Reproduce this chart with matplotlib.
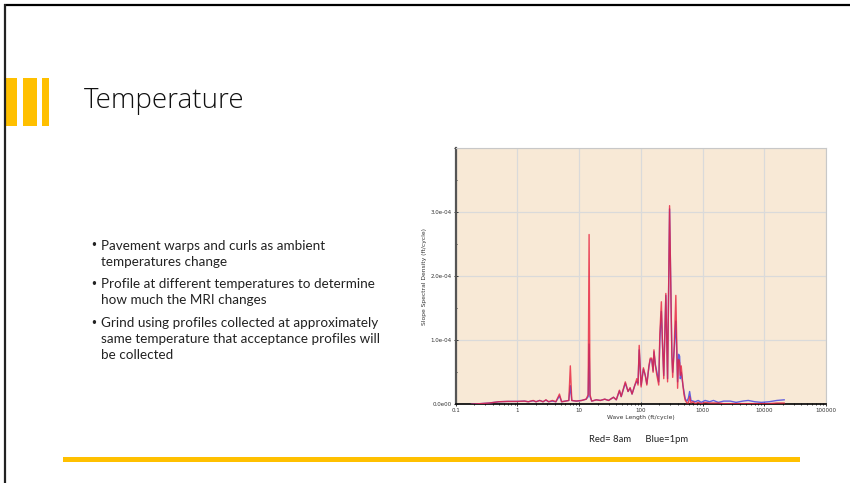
import matplotlib
matplotlib.use("Agg")
import matplotlib.pyplot as plt
from matplotlib.patches import Rectangle
from matplotlib.ticker import MultipleLocator, FuncFormatter, LogLocator, NullFormatter

# ---- data (values in 1e-4 ft/cycle) ----
wavelength = [0.18, 0.25, 0.35, 0.5, 0.7, 1.0, 1.3, 1.5, 1.8, 2.0, 2.3, 2.6, 2.9, 3.2, 3.7,
              4.2, 4.8, 5.2, 6.0, 6.8, 7.2, 7.6, 9.0, 11, 13, 14.0, 14.5, 15.0, 16, 19, 22,
              26, 30, 36, 40, 45, 48, 56, 62, 67, 72, 80, 86, 90, 94, 101, 110, 118, 125,
              135, 142, 150, 158, 163, 172, 182, 195, 203, 215, 225, 235, 254, 271, 292,
              318, 328, 347, 369, 394, 409, 425, 436, 451, 480, 500, 525, 560, 590, 617,
              650, 700, 760, 850, 950, 1100, 1300, 1500, 1800, 2200, 2800, 3500, 4500,
              5500, 7000, 9000, 12000, 16000, 21000]
red_8am = [0.00, 0.01, 0.02, 0.04, 0.045, 0.045, 0.05, 0.04, 0.06, 0.04, 0.06, 0.04, 0.07,
           0.04, 0.06, 0.04, 0.16, 0.04, 0.05, 0.06, 0.60, 0.06, 0.05, 0.06, 0.08, 0.15,
           2.65, 0.15, 0.05, 0.07, 0.06, 0.08, 0.06, 0.11, 0.07, 0.22, 0.12, 0.35, 0.20,
           0.26, 0.16, 0.30, 0.40, 0.30, 0.92, 0.27, 0.57, 0.45, 0.30, 0.60, 0.72, 0.72,
           0.50, 0.85, 0.60, 0.45, 0.30, 1.10, 1.60, 0.90, 0.40, 1.73, 0.35, 3.10, 0.75,
           0.42, 0.90, 1.70, 0.25, 0.70, 0.65, 0.45, 0.60, 0.30, 0.15, 0.06, 0.02, 0.02,
           0.12, 0.02, 0.04, 0.01, 0.03, 0.01, 0.03, 0.02, 0.02, 0.02, 0.01, 0.01, 0.01,
           0.01, 0.01, 0.01, 0.01, 0.01, 0.02, 0.02]
blue_1pm = [0.00, 0.01, 0.02, 0.04, 0.045, 0.045, 0.05, 0.04, 0.055, 0.04, 0.06, 0.04, 0.065,
            0.04, 0.05, 0.04, 0.13, 0.04, 0.05, 0.06, 0.29, 0.06, 0.05, 0.06, 0.08, 0.12,
            0.94, 0.12, 0.05, 0.07, 0.06, 0.08, 0.06, 0.11, 0.07, 0.21, 0.12, 0.33, 0.20,
            0.25, 0.16, 0.30, 0.36, 0.33, 0.85, 0.30, 0.55, 0.45, 0.32, 0.58, 0.70, 0.70,
            0.52, 0.82, 0.62, 0.50, 0.35, 1.00, 1.45, 0.90, 0.45, 1.70, 0.40, 3.05, 0.80,
            0.50, 0.85, 1.30, 0.35, 0.78, 0.75, 0.40, 0.50, 0.30, 0.20, 0.08, 0.05, 0.10,
            0.20, 0.06, 0.05, 0.04, 0.06, 0.03, 0.06, 0.04, 0.06, 0.03, 0.05, 0.05, 0.03,
            0.05, 0.06, 0.04, 0.03, 0.04, 0.06, 0.07]

title = "Temperature"
bullets = [
    ["Pavement warps and curls as ambient", "temperatures change"],
    ["Profile at different temperatures to determine", "how much the MRI changes"],
    ["Grind using profiles collected at approximately",
     "same temperature that acceptance profiles will", "be collected"],
]
caption = "Red= 8am      Blue=1pm"
x_label = "Wave Length (ft/cycle)"
y_label = "Slope Spectral Density (ft/cycle)"
x_ticks = [0.1, 1, 10, 100, 1000, 10000, 100000]
x_tick_labels = ["0.1", "1", "10", "100", "1000", "10000", "100000"]

W, H = 850, 483
fig = plt.figure(figsize=(W / 100, H / 100), dpi=100)
fig.patch.set_facecolor("white")

# slide layer in pixel coordinates
bg = fig.add_axes([0, 0, 1, 1])
bg.set_xlim(0, W)
bg.set_ylim(H, 0)
bg.axis("off")
bg.plot([4, W], [5, 5], color="black", lw=1.6, solid_capstyle="butt")
bg.plot([5, 5], [4, H], color="#222222", lw=1.6, solid_capstyle="butt")
gold = "#FFC000"
for x0, x1 in [(6, 17), (23, 37), (42, 49)]:
    bg.add_patch(Rectangle((x0, 78), x1 - x0, 48, color=gold, lw=0))
bg.add_patch(Rectangle((63, 457), 800 - 63, 5, color=gold, lw=0))
bg.text(84, 101, title, fontsize=20, family="Open Sans", weight="light",
        color="#111111", va="center", ha="left")

line_h = 16.0
y = 246
for group in bullets:
    bg.text(93.5, y, "\u2022", fontsize=8.5, family="DejaVu Sans", color="#222222",
            va="center", ha="center")
    for ln in group:
        bg.text(101.5, y, ln, fontsize=9.7, family="Lato", color="#222222",
                va="center", ha="left")
        y += line_h
    y += 6.5
bg.text(639, 440, caption, fontsize=6.8, family="Lato", color="#222222",
        va="center", ha="center")

# chart
left, right, top, bottom = 455.7, 826, 148, 404.3
ax = fig.add_axes([left / W, 1 - bottom / H, (right - left) / W, (bottom - top) / H])
ax.set_facecolor("#F8E9D6")
ax.plot(wavelength, [v * 1e-4 for v in blue_1pm], color="#4848E0", lw=1.0, alpha=0.85, zorder=3)
ax.plot(wavelength, [v * 1e-4 for v in red_8am], color="#E8203C", lw=1.0, alpha=0.8, zorder=4)
ax.set_xscale("log")
ax.set_xlim(0.1, 100000)
ax.set_ylim(0, 4e-4)
ax.set_xticks(x_ticks)
ax.set_xticklabels(x_tick_labels)
ax.xaxis.set_minor_locator(LogLocator(base=10, subs=range(2, 10), numticks=100))
ax.xaxis.set_minor_formatter(NullFormatter())
ax.yaxis.set_major_locator(MultipleLocator(1e-4))
ax.yaxis.set_minor_locator(MultipleLocator(0.5e-4))
ax.yaxis.set_major_formatter(FuncFormatter(
    lambda v, p: "0.0e00" if v == 0 else ("%.1e" % v) if v < 3.9e-4 else ""))
ax.grid(True, which="major", color="#DADADA", lw=0.9)
ax.set_axisbelow(True)
ax.tick_params(which="both", labelsize=4, colors="#333333", length=2.5, width=0.7,
               direction="inout", pad=1.5)
ax.tick_params(which="minor", length=2)
for s in ["top", "right"]:
    ax.spines[s].set_color("#C8C8C8")
    ax.spines[s].set_linewidth(0.8)
ax.spines["left"].set_color("#555555")
ax.spines["left"].set_linewidth(1.6)
ax.spines["bottom"].set_color("#111111")
ax.spines["bottom"].set_linewidth(1.3)
ax.set_xlabel(x_label, fontsize=4.3, color="#333333", labelpad=1.5)
ax.set_ylabel(y_label, fontsize=4.3, color="#333333", labelpad=3)

fig.savefig("out.png", dpi=100, facecolor="white")
